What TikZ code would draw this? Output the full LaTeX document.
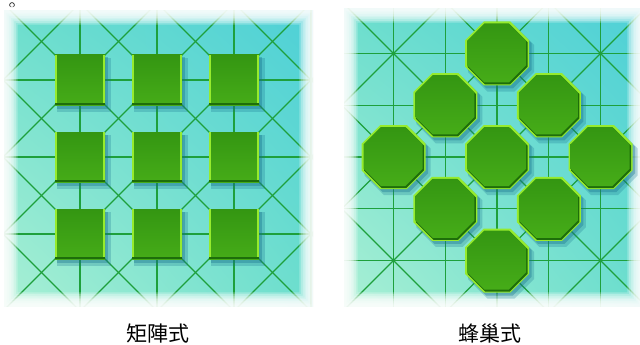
\documentclass[tikz,border=0pt]{standalone}
\usepackage{fontspec}
\newfontfamily\cjk{Noto Sans CJK TC}
\usetikzlibrary{shadings}

% Pfade fuer Quadrat und Achteck (Mitte x, Mitte y, halbe Breite)
\newcommand\quadrat[3]{(#1-#3,#2-#3) rectangle (#1+#3,#2+#3)}
\newcommand\okta[3]{(#1+#3*0.4142,#2-#3) -- (#1+#3,#2-#3*0.4142) -- (#1+#3,#2+#3*0.4142) -- (#1+#3*0.4142,#2+#3) -- (#1-#3*0.4142,#2+#3) -- (#1-#3,#2+#3*0.4142) -- (#1-#3,#2-#3*0.4142) -- (#1-#3*0.4142,#2-#3) -- cycle}

\begin{document}
\begin{tikzpicture}[x=1pt,y=-1pt,
	linie/.style={draw=liniengruen, line width=1.2pt},
	beschriftung/.style={anchor=base, font=\cjk\fontsize{21}{21}\selectfont}]
	% Groessen
	\def\sL{77}     % Raster links
	\def\sR{51.75}  % Raster rechts
	
	% Farben
	\definecolor{feldhell}{RGB}{170,240,212}
	\definecolor{feldmitte}{RGB}{108,222,205}
	\definecolor{feldcyan}{RGB}{78,208,215}
	\definecolor{liniengruen}{RGB}{30,160,60}
	\definecolor{gruenoben}{RGB}{52,150,18}
	\definecolor{gruenunten}{RGB}{70,172,24}
	\definecolor{gruendunkel}{RGB}{30,110,10}
	\definecolor{kantenlime}{RGB}{150,235,45}
	\definecolor{schatten}{RGB}{20,110,140}
	
	\useasboundingbox (0,0) rectangle (640,345);
	
	% kleiner Kreis oben links
	\draw[line width=0.6pt] (12,5) circle (2.4);
	
	% Linkes Feld: Hintergrund + Raster
	\begin{scope}
		\clip (4,11) rectangle (313,306);
		\shade[upper left=feldmitte, upper right=feldcyan, lower left=feldhell, lower right=feldmitte] (4,11) rectangle (313,306);
		\foreach \i in {-2,...,2} {
			\draw[linie] (157+\sL*\i,0) -- (157+\sL*\i,320);
			\draw[linie] (0,157+\sL*\i) -- (320,157+\sL*\i);
		}
		\foreach \k in {-4,...,4} {
			\draw[linie] (157+\sL*\k-200,-43) -- (157+\sL*\k+200,357);
			\draw[linie] (157+\sL*\k-200,357) -- (157+\sL*\k+200,-43);
		}
	\end{scope}
	% weicher Rand links
	\foreach \k in {1,...,8}
		\fill[white, opacity=0.27, even odd rule] (0,7) rectangle (317,310) (4+1.7*\k,11+1.7*\k) rectangle (313-1.7*\k,306-1.7*\k);
	
	% Rechtes Feld: Hintergrund + Raster
	\begin{scope}
		\clip (344,9) rectangle (641,306);
		\shade[upper left=feldmitte, upper right=feldcyan, lower left=feldhell, lower right=feldmitte] (344,9) rectangle (641,306);
		\foreach \i in {-3,...,3} {
			\draw[linie] (497+\sR*\i,0) -- (497+\sR*\i,320);
			\draw[linie] (330,157+\sR*\i) -- (650,157+\sR*\i);
		}
		\foreach \k in {-3,...,3} {
			\draw[linie] (497+2*\sR*\k-200,-43) -- (497+2*\sR*\k+200,357);
			\draw[linie] (497+2*\sR*\k-200,357) -- (497+2*\sR*\k+200,-43);
		}
	\end{scope}
	% weicher Rand rechts
	\foreach \k in {1,...,8}
		\fill[white, opacity=0.27, even odd rule] (340,5) rectangle (645,310) (344+1.7*\k,9+1.7*\k) rectangle (641-1.7*\k,306-1.7*\k);
	
	% Quadrate (Matrix)
	\foreach \i in {-1,0,1} {
		\foreach \j in {-1,0,1} {
			\pgfmathsetmacro\cx{157+\sL*\i}
			\pgfmathsetmacro\cy{157+\sL*\j}
			\fill[schatten, opacity=0.25] \quadrat{\cx+4}{\cy+5}{27};
			\fill[schatten, opacity=0.35] \quadrat{\cx+2.5}{\cy+3}{25.5};
			\shade[top color=gruenoben, bottom color=gruenunten] \quadrat{\cx}{\cy}{25};
			\fill[kantenlime] (\cx-25,\cy-25) rectangle (\cx-23.5,\cy+25);
			\fill[kantenlime] (\cx+22.5,\cy-25) rectangle (\cx+25,\cy+25);
			\fill[gruendunkel] (\cx-25,\cy+23) rectangle (\cx+25,\cy+25);
		}
	}
	
	% Achtecke (Wabe)
	\foreach \i/\j in {0/-2,-1/-1,1/-1,-2/0,0/0,2/0,-1/1,1/1,0/2} {
		\pgfmathsetmacro\cx{497+\sR*\i}
		\pgfmathsetmacro\cy{157+\sR*\j}
		\fill[schatten, opacity=0.25] \okta{\cx+4}{\cy+5}{33};
		\fill[schatten, opacity=0.35] \okta{\cx+2.5}{\cy+3}{32};
		\fill[kantenlime] \okta{\cx}{\cy}{32};
		\fill[gruendunkel] \okta{\cx+0.5}{\cy+1}{30};
		\shade[top color=gruenoben, bottom color=gruenunten] \okta{\cx-0.3}{\cy-0.5}{29.5};
	}
	
	% Beschriftungen
	\node[beschriftung] (links) at (158,341) {矩陣式};
	\node[beschriftung] (rechts) at (490,341) {蜂巢式};
\end{tikzpicture}
\end{document}
